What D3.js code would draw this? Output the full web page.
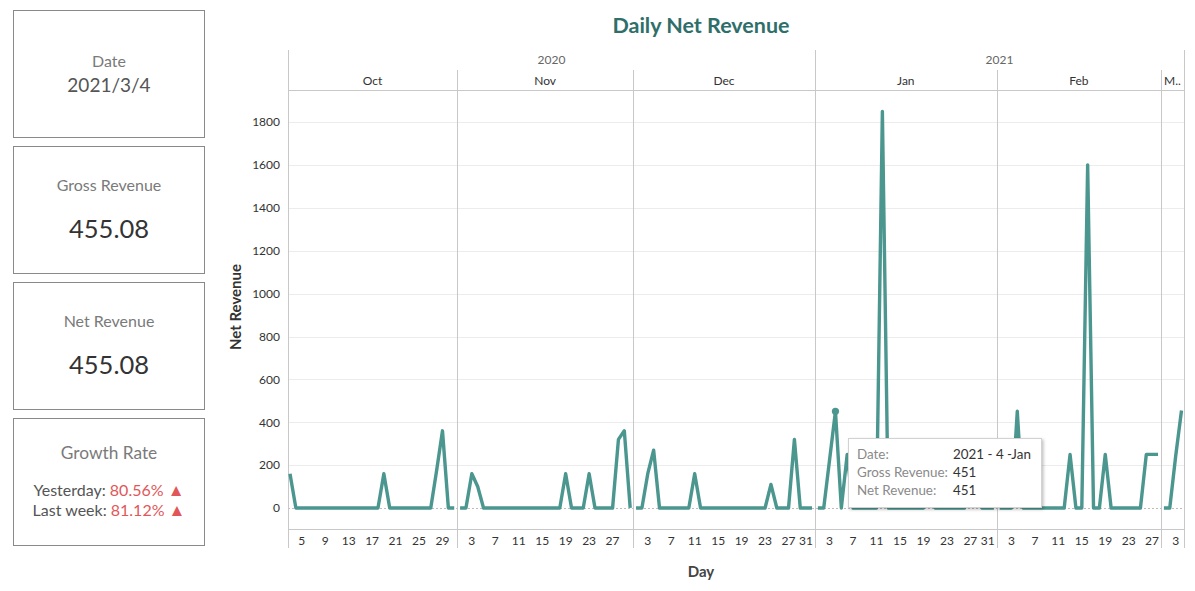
<!DOCTYPE html>
<html>
<head>
<meta charset="utf-8">
<title>Daily Net Revenue</title>
<script src="https://cdn.jsdelivr.net/npm/d3@7/dist/d3.min.js"></script>
<style>
  body { margin: 0; background: #fff; }
  svg { font-family: Lato, "Open Sans", sans-serif; }
</style>
</head>
<body>
<svg id="chart" width="1195" height="591"></svg>
<script>
// ---- data ----
var years = [2020, 2021];
var monthNames = ["Oct", "Nov", "Dec", "Jan", "Feb", "M.."];
var monthYear = [2020, 2020, 2020, 2021, 2021, 2021];
var monthIndex = [9, 10, 11, 0, 1, 2];   // JS month numbers
var firstDay = [3, 1, 1, 1, 1, 1];       // first day with data in each month

var octValues = [160, 0, 0, 0, 0, 0, 0, 0, 0, 0, 0, 0, 0, 0, 0, 0, 160, 0, 0, 0, 0, 0, 0, 0, 0, 175, 360, 0, 0];
var novValues = [0, 0, 160, 100, 0, 0, 0, 0, 0, 0, 0, 0, 0, 0, 0, 0, 0, 0, 160, 0, 0, 0, 160, 0, 0, 0, 0, 320, 360, 0];
var decValues = [0, 0, 160, 270, 0, 0, 0, 0, 0, 0, 160, 0, 0, 0, 0, 0, 0, 0, 0, 0, 0, 0, 0, 110, 0, 0, 0, 320, 0, 0, 0];
var janValues = [0, 0, 225, 451, 0, 250, 0, 0, 0, 0, 0, 1850, 0, 0, 0, 0, 0, 0, 0, 200, 0, 0, 0, 0, 0, 0, 100, 250, 0, 0, 0];
var febValues = [0, 0, 0, 451, 0, 0, 0, 0, 0, 0, 0, 0, 250, 0, 0, 1600, 0, 0, 250, 0, 0, 0, 0, 0, 0, 250, 250, 250];
var marValues = [0, 0, 240, 455.08];
var monthValues = [octValues, novValues, decValues, janValues, febValues, marValues];

var tickDays = [
  [5, 9, 13, 17, 21, 25, 29],
  [3, 7, 11, 15, 19, 23, 27],
  [3, 7, 11, 15, 19, 23, 27, 31],
  [3, 7, 11, 15, 19, 23, 27, 31],
  [3, 7, 11, 15, 19, 23, 27],
  [3]
];
var yTicks = [0, 200, 400, 600, 800, 1000, 1200, 1400, 1600, 1800];

var kpiTitles = ["Date", "Gross Revenue", "Net Revenue", "Growth Rate"];
var kpiValues = ["2021/3/4", "455.08", "455.08", null];
var growthLabels = ["Yesterday:", "Last week:"];
var growthValues = ["80.56%", "81.12%"];

var hoverDate = "2021 - 4 -Jan";
var hoverGross = "451";
var hoverNet = "451";

// ---- layout ----
var svg = d3.select("#chart");
var plotL = 288, plotR = 1184, plotT = 90, plotB = 529;
var teal = "#4b968f";
var grid = "#ececec";
var rule = "#c8c8c8";

function dayDate(m, d) { return new Date(Date.UTC(monthYear[m], monthIndex[m], d)); }

var x = d3.scaleUtc()
  .domain([dayDate(0, 3), dayDate(5, 4)])
  .range([290, 1181.5]);
var y = d3.scaleLinear().domain([-98, 1950]).range([plotB, plotT]);

// pane edges: half a day before each month start
var halfDay = 12 * 3600 * 1000;
var edges = monthNames.map(function(n, i) {
  return i === 0 ? plotL : x(new Date(dayDate(i, 1).getTime() - halfDay));
});
edges.push(plotR);

// ---- KPI cards ----
var cards = svg.append("g");
var cardTops = [10, 146, 282, 418];
cardTops.forEach(function(t, i) {
  var g = cards.append("g").attr("transform", "translate(13," + t + ")");
  g.append("rect").attr("x", 0.5).attr("y", 0.5).attr("width", 191).attr("height", 127)
    .attr("fill", "#fff").attr("stroke", "#8a8a8a");
  if (i === 0) {
    g.append("text").attr("x", 96).attr("y", 57).attr("text-anchor", "middle")
      .attr("font-size", 16).attr("fill", "#7a7a7a").text(kpiTitles[i]);
    g.append("text").attr("x", 96).attr("y", 82).attr("text-anchor", "middle")
      .attr("font-size", 19).attr("fill", "#555").text(kpiValues[i]);
  } else if (i < 3) {
    g.append("text").attr("x", 96).attr("y", 45).attr("text-anchor", "middle")
      .attr("font-size", 16).attr("fill", "#7a7a7a").text(kpiTitles[i]);
    g.append("text").attr("x", 96).attr("y", 92).attr("text-anchor", "middle")
      .attr("font-size", 25.5).attr("fill", "#333").text(kpiValues[i]);
  } else {
    g.append("text").attr("x", 96).attr("y", 41).attr("text-anchor", "middle")
      .attr("font-size", 17.3).attr("fill", "#7a7a7a").text(kpiTitles[i]);
    growthLabels.forEach(function(lab, j) {
      var t2 = g.append("text").attr("x", 96).attr("y", 78 + j * 20).attr("text-anchor", "middle")
        .attr("font-size", 16);
      t2.append("tspan").attr("fill", "#555").text(lab + " ");
      t2.append("tspan").attr("fill", "#e15759").text(growthValues[j] + " ");
      t2.append("tspan").attr("fill", "#e15759").attr("font-size", 17).text("\u25B2");
    });
  }
});

// ---- title ----
svg.append("text").attr("x", 701).attr("y", 33).attr("text-anchor", "middle")
  .attr("font-size", 21.5).attr("font-weight", "bold").attr("fill", "#2f6f6a")
  .text("Daily Net Revenue");

// ---- grid ----
svg.append("g").selectAll("line").data(yTicks.filter(function(v) { return v > 0; }))
  .join("line")
  .attr("x1", plotL).attr("x2", plotR)
  .attr("y1", function(d) { return Math.round(y(d)) + 0.5; })
  .attr("y2", function(d) { return Math.round(y(d)) + 0.5; })
  .attr("stroke", grid);
svg.append("line").attr("x1", plotL).attr("x2", plotR)
  .attr("y1", Math.round(y(0)) + 0.5).attr("y2", Math.round(y(0)) + 0.5)
  .attr("stroke", "#bdbdbd").attr("stroke-dasharray", "2,2");

// ---- y axis ----
var yAxis = d3.axisLeft(y).tickValues(yTicks).tickFormat(d3.format("d")).tickSize(0).tickPadding(8);
var ya = svg.append("g").attr("transform", "translate(" + plotL + ",0)").call(yAxis);
ya.select(".domain").remove();
ya.selectAll("text").attr("font-family", "Lato, 'Open Sans', sans-serif")
  .attr("font-size", 12).attr("fill", "#333");

svg.append("text").attr("transform", "translate(241,307) rotate(-90)")
  .attr("text-anchor", "middle").attr("font-size", 15).attr("font-weight", "bold")
  .attr("fill", "#333").text("Net Revenue");

// ---- frame and headers ----
var frame = svg.append("g").attr("stroke", rule).attr("fill", "none");
frame.append("line").attr("x1", plotL + 0.5).attr("x2", plotL + 0.5).attr("y1", 50).attr("y2", 548);
frame.append("line").attr("x1", plotR + 0.5).attr("x2", plotR + 0.5).attr("y1", 50).attr("y2", 548);
frame.append("line").attr("x1", plotL).attr("x2", plotR).attr("y1", plotT + 0.5).attr("y2", plotT + 0.5);
frame.append("line").attr("x1", plotL).attr("x2", plotR).attr("y1", plotB + 0.5).attr("y2", plotB + 0.5);
edges.slice(1, -1).forEach(function(e, i) {
  var yearEdge = monthYear[i + 1] !== monthYear[i];
  frame.append("line").attr("x1", Math.round(e) + 0.5).attr("x2", Math.round(e) + 0.5)
    .attr("y1", yearEdge ? 50 : 70).attr("y2", 548);
});

years.forEach(function(yr) {
  var idx = monthYear.map(function(v, i) { return v === yr ? i : -1; }).filter(function(i) { return i >= 0; });
  var x0 = edges[idx[0]], x1 = edges[idx[idx.length - 1] + 1];
  svg.append("text").attr("x", (x0 + x1) / 2).attr("y", 64).attr("text-anchor", "middle")
    .attr("font-size", 12).attr("fill", "#666").text(yr);
});
monthNames.forEach(function(n, i) {
  svg.append("text").attr("x", (edges[i] + edges[i + 1]) / 2).attr("y", 85).attr("text-anchor", "middle")
    .attr("font-size", 12).attr("fill", "#333").text(n);
});

// ---- day tick labels ----
var tickG = svg.append("g");
tickDays.forEach(function(days, m) {
  days.forEach(function(d) {
    var t = tickG.append("text").attr("y", 545).attr("text-anchor", "middle")
      .attr("font-size", 12).attr("fill", "#333").text(d);
    var cx = x(dayDate(m, d));
    var w = t.node().getComputedTextLength();
    if (cx + w / 2 > edges[m + 1] - 2) cx = edges[m + 1] - 2 - w / 2;
    t.attr("x", cx);
  });
});

svg.append("text").attr("x", 701).attr("y", 577).attr("text-anchor", "middle")
  .attr("font-size", 15).attr("font-weight", "bold").attr("fill", "#444").text("Day");

// ---- lines, one per month pane ----
var line = d3.line()
  .x(function(d) { return x(d.date); })
  .y(function(d) { return y(d.value); });

monthValues.forEach(function(vals, m) {
  var pts = vals.map(function(v, k) { return { date: dayDate(m, firstDay[m] + k), value: v }; });
  svg.append("path").datum(pts).attr("d", line)
    .attr("fill", "none").attr("stroke", teal).attr("stroke-width", 3.4)
    .attr("stroke-linejoin", "round").attr("stroke-linecap", "butt");
});

// hovered point
var hoverPt = { date: dayDate(3, 4), value: janValues[3] };
svg.append("circle").attr("cx", x(hoverPt.date)).attr("cy", y(hoverPt.value)).attr("r", 3.6)
  .attr("fill", teal);

// ---- tooltip ----
var defs = svg.append("defs");
var f = defs.append("filter").attr("id", "shadow").attr("x", "-10%").attr("y", "-10%")
  .attr("width", "130%").attr("height", "140%");
f.append("feDropShadow").attr("dx", 1.5).attr("dy", 1.5).attr("stdDeviation", 1.5)
  .attr("flood-color", "#000").attr("flood-opacity", 0.25);

var tip = svg.append("g").attr("transform", "translate(848,438)");
tip.append("rect").attr("x", 0.5).attr("y", 0.5).attr("width", 193).attr("height", 69)
  .attr("fill", "#fff").attr("stroke", "#d2d2d2").attr("filter", "url(#shadow)");
var tipRows = [["Date:", hoverDate], ["Gross Revenue:", hoverGross], ["Net Revenue:", hoverNet]];
tipRows.forEach(function(r, i) {
  tip.append("text").attr("x", 9).attr("y", 21 + i * 18).attr("font-size", 13.4)
    .attr("fill", "#8a8a8a").text(r[0]);
  tip.append("text").attr("x", 105).attr("y", 21 + i * 18).attr("font-size", 13.4)
    .attr("fill", "#333").text(r[1]);
});
</script>
</body>
</html>
